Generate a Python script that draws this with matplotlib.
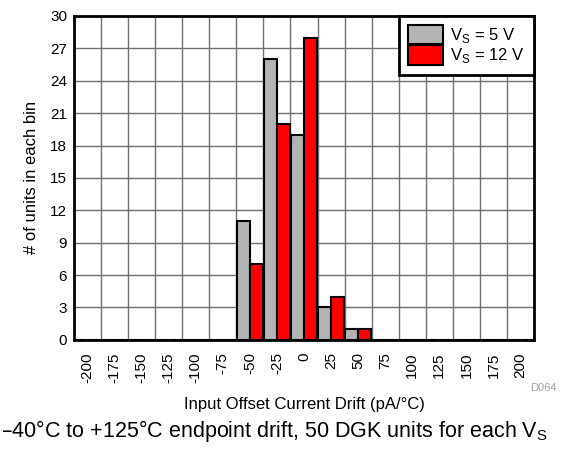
import numpy as np
import matplotlib.pyplot as plt

plt.rcParams['font.family'] = ['Liberation Sans', 'DejaVu Sans']

# histogram bins (pA/°C) and counts for each supply voltage
bins = [-200, -175, -150, -125, -100, -75, -50, -25, 0, 25, 50, 75, 100, 125, 150, 175, 200]
counts_5v = [0, 0, 0, 0, 0, 0, 11, 26, 19, 3, 1, 0, 0, 0, 0, 0, 0]
counts_12v = [0, 0, 0, 0, 0, 0, 7, 20, 28, 4, 1, 0, 0, 0, 0, 0, 0]
labels = ['V$_\\mathregular{S}$ = 5 V', 'V$_\\mathregular{S}$ = 12 V']

fig = plt.figure(figsize=(5.68, 4.55), dpi=100)
ax = fig.add_axes([0.1303, 0.253, 0.8099, 0.712])

x = np.arange(len(bins))
w = 0.48
b1 = ax.bar(x - 0.25, counts_5v, width=w, color='#b4b4b4', edgecolor='black', linewidth=1.5, zorder=3)
b2 = ax.bar(x + 0.25, counts_12v, width=w, color='#ff0000', edgecolor='black', linewidth=1.5, zorder=3)

ax.set_xlim(-0.5, len(bins) - 0.5)
ax.set_ylim(0, 30)
ax.set_yticks(np.arange(0, 31, 3))
ax.set_xticks(x)
ax.set_xticklabels([str(b) for b in bins], rotation=90)
ax.set_xticks(np.arange(-0.5, len(bins), 1), minor=True)
ax.tick_params(axis='both', which='both', length=0, labelsize=11)
ax.tick_params(axis='x', pad=9)
ax.tick_params(axis='y', pad=5)

# grid on bin edges and every 3 units
ax.grid(which='minor', axis='x', color='#707070', linewidth=1, zorder=0)
ax.grid(which='major', axis='y', color='#707070', linewidth=1, zorder=0)

for s in ax.spines.values():
    s.set_linewidth(2)
    s.set_zorder(4)

ax.set_ylabel('# of units in each bin', fontsize=12, labelpad=8)
ax.set_xlabel('Input Offset Current Drift (pA/°C)', fontsize=12, labelpad=10)

leg = ax.legend([b1, b2], labels, loc='upper right', fontsize=12, frameon=True, fancybox=False,
                framealpha=1, borderaxespad=0, labelspacing=0.0, handlelength=2.1,
                handleheight=1.4, handletextpad=0.45, borderpad=0.55)
leg.get_frame().set_edgecolor('black')
leg.get_frame().set_linewidth(2)
leg.set_zorder(5)

fig.text(0.98, 0.14, 'D064', fontsize=8, color='#a0a0a0', ha='right')
fig.text(0.002, 0.04, '\u201340°C to +125°C endpoint drift, 50 DGK units for each V$_\\mathregular{S}$',
         fontsize=15.5, ha='left')

fig.savefig('out.png', dpi=100)
